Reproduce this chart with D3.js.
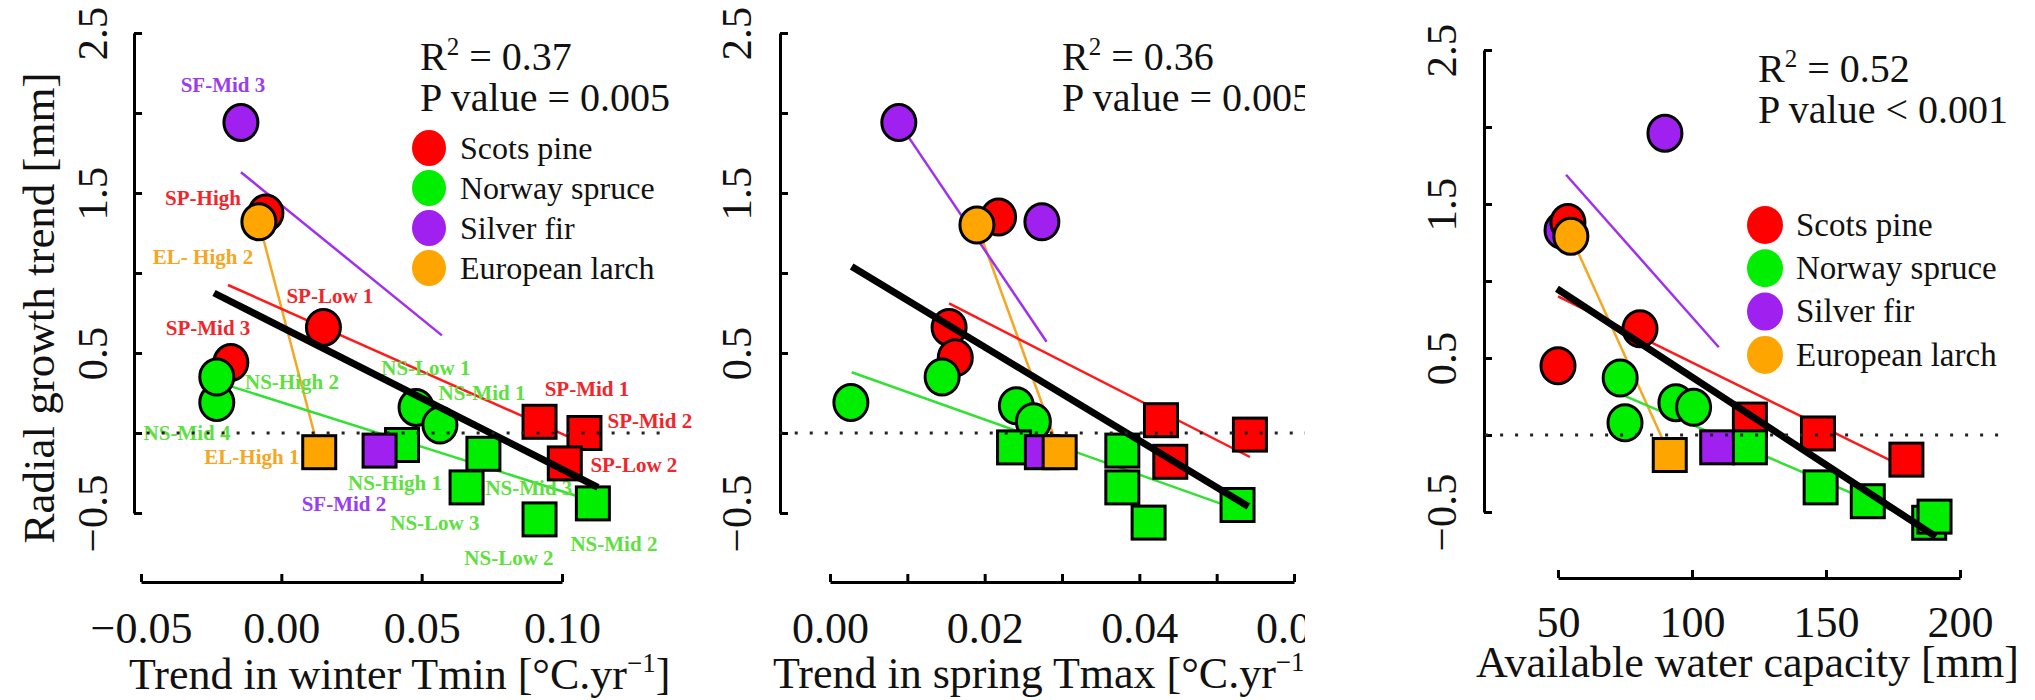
<!DOCTYPE html>
<html>
<head>
<meta charset="utf-8">
<script src="https://cdn.jsdelivr.net/npm/d3@7"></script>
<style>
body { margin: 0; background: #fff; }
svg text { font-family: "Liberation Serif", "Times New Roman", serif; }
</style>
</head>
<body>
<svg id="chart" width="2035" height="700"></svg>
<script>
// species and legend
const speciesCodes = ["SP", "NS", "SF", "EL"];
const speciesNames = ["Scots pine", "Norway spruce", "Silver fir", "European larch"];

// panel 1: trend in winter Tmin  [species, shape, x, y]
const winterPoints = [
  ["SP", "c", -0.018, 0.44],
  ["NS", "c", -0.023, 0.19],
  ["NS", "c", -0.023, 0.35],
  ["SF", "c", -0.0144, 1.94],
  ["SP", "c", -0.0055, 1.375],
  ["EL", "c", -0.008, 1.32],
  ["SP", "c", 0.015, 0.66],
  ["NS", "c", 0.048, 0.16],
  ["NS", "c", 0.0565, 0.05],
  ["NS", "s", 0.043, -0.075],
  ["SF", "s", 0.035, -0.11],
  ["EL", "s", 0.0135, -0.12],
  ["NS", "s", 0.072, -0.13],
  ["NS", "s", 0.066, -0.34],
  ["NS", "s", 0.092, -0.54],
  ["NS", "s", 0.111, -0.44],
  ["SP", "s", 0.092, 0.07],
  ["SP", "s", 0.108, 0.0],
  ["SP", "s", 0.101, -0.19]
];
// site labels of panel 1 [text, species, x, y]
const winterLabels = [
  ["SF-Mid 3", "SF", -0.0208, 2.175],
  ["SP-High", "SP", -0.0279, 1.47],
  ["EL- High 2", "EL", -0.0279, 1.10],
  ["SP-Low 1", "SP", 0.0173, 0.86],
  ["SP-Mid 3", "SP", -0.0261, 0.656],
  ["NS-Low 1", "NS", 0.0515, 0.41],
  ["NS-High 2", "NS", 0.0038, 0.32],
  ["NS-Mid 1", "NS", 0.0715, 0.25],
  ["SP-Mid 1", "SP", 0.1089, 0.28],
  ["SP-Mid 2", "SP", 0.1313, 0.08],
  ["NS-Mid 4", "NS", -0.0336, 0.0],
  ["EL-High 1", "EL", -0.0105, -0.15],
  ["SP-Low 2", "SP", 0.1256, -0.2],
  ["NS-High 1", "NS", 0.0405, -0.31],
  ["NS-Mid 3", "NS", 0.0882, -0.34],
  ["SF-Mid 2", "SF", 0.0223, -0.44],
  ["NS-Low 3", "NS", 0.0547, -0.56],
  ["NS-Mid 2", "NS", 0.1185, -0.69],
  ["NS-Low 2", "NS", 0.0811, -0.78]
];
// fitted lines [species or "all", x1, y1, x2, y2]
const winterFits = [
  ["EL", -0.008, 1.32, 0.0135, -0.12],
  ["SF", -0.0144, 1.63, 0.0572, 0.61],
  ["SP", -0.019, 0.925, 0.105, -0.044],
  ["NS", -0.0176, 0.29, 0.1064, -0.40],
  ["all", -0.024, 0.875, 0.1128, -0.34]
];

// panel 2: trend in spring Tmax
const springPoints = [
  ["SF", "c", 0.0089, 1.94],
  ["SP", "c", 0.0218, 1.35],
  ["EL", "c", 0.0190, 1.30],
  ["SF", "c", 0.0274, 1.32],
  ["SP", "c", 0.0154, 0.66],
  ["SP", "c", 0.0162, 0.47],
  ["NS", "c", 0.0145, 0.35],
  ["NS", "c", 0.0027, 0.19],
  ["NS", "c", 0.0241, 0.17],
  ["NS", "c", 0.0263, 0.07],
  ["NS", "s", 0.0238, -0.09],
  ["SF", "s", 0.0274, -0.12],
  ["EL", "s", 0.0297, -0.12],
  ["NS", "s", 0.0378, -0.11],
  ["NS", "s", 0.0378, -0.34],
  ["NS", "s", 0.0412, -0.56],
  ["SP", "s", 0.0428, 0.08],
  ["SP", "s", 0.0440, -0.18],
  ["SP", "s", 0.0543, -0.01],
  ["NS", "s", 0.0527, -0.45]
];
const springFits = [
  ["EL", 0.0190, 1.30, 0.0297, -0.12],
  ["SF", 0.0089, 1.94, 0.028, 0.57],
  ["SP", 0.0154, 0.81, 0.0543, -0.15],
  ["NS", 0.0028, 0.38, 0.0516, -0.46],
  ["all", 0.0028, 1.04, 0.0541, -0.46]
];

// panel 3: available water capacity
const awcPoints = [
  ["SF", "c", 89.9, 1.96],
  ["SF", "c", 51.5, 1.33],
  ["SP", "c", 53.7, 1.38],
  ["EL", "c", 54.8, 1.29],
  ["SP", "c", 80.6, 0.69],
  ["SP", "c", 50, 0.45],
  ["NS", "c", 73.2, 0.37],
  ["NS", "c", 75, 0.08],
  ["NS", "c", 94, 0.21],
  ["NS", "c", 100.6, 0.18],
  ["EL", "s", 91.7, -0.13],
  ["SF", "s", 109.4, -0.08],
  ["SP", "s", 121.6, 0.10],
  ["NS", "s", 121.6, -0.08],
  ["SP", "s", 147, 0.01],
  ["SP", "s", 180, -0.16],
  ["NS", "s", 148, -0.34],
  ["NS", "s", 165.6, -0.43],
  ["NS", "s", 188.5, -0.57],
  ["NS", "s", 190.5, -0.53]
];
const awcFits = [
  ["EL", 54.8, 1.29, 91.7, -0.13],
  ["SF", 53, 1.69, 110, 0.57],
  ["SP", 50, 0.90, 179.3, -0.21],
  ["NS", 74, 0.26, 189.5, -0.60],
  ["all", 49.6, 0.95, 191, -0.66]
];

const yTicks = [-0.5, 0, 0.5, 1, 1.5, 2, 2.5];
const yTickLabels = [-0.5, 0.5, 1.5, 2.5];
const stats = [["0.37", "= 0.005"], ["0.36", "= 0.005"], ["0.52", "< 0.001"]];

const fillColor = {SP: "#ff0000", NS: "#00ee00", SF: "#a020f0", EL: "#ffa500"};
const lineColor = {SP: "#ff1a1a", NS: "#33e033", SF: "#a030f0", EL: "#f5a623", all: "#000"};
const labelColor = {SP: "#f0262a", NS: "#5ee040", SF: "#9a3cf0", EL: "#f5a623"};

const svg = d3.select("#chart");

const panels = [
  {points: winterPoints, fits: winterFits, labels: winterLabels,
   xDomain: [-0.05, 0.10], xRange: [141, 562], xTicks: [-0.05, 0, 0.05, 0.10], xFmt: d3.format(".2f"),
   yRange: [513, 33], yAxisX: 134, yLabelX: 92, xAxisY: 582, xLabelY: 643,
   ref: [-0.048, 0.1385], title: ["Trend in winter Tmin [°C.yr", "−1", "]"], titleX: 129, titleY: 689,
   statX: 420, statY: 70, legend: {x: 429, y: 148, step: 40, r: 17, size: 32}, stat: 0},
  {points: springPoints, fits: springFits, labels: [],
   xDomain: [0, 0.06], xRange: [830, 1294], xTicks: [0, 0.01, 0.02, 0.03, 0.04, 0.05, 0.06],
   xFmt: d => (Math.round(d * 100) % 2 === 0 ? d3.format(".2f")(d) : ""),
   yRange: [513, 33], yAxisX: 780, yLabelX: 736, xAxisY: 582, xLabelY: 643,
   ref: [-0.0065, 0.065], title: ["Trend in spring Tmax [°C.yr", "−1", "]"], titleX: 773, titleY: 688,
   statX: 1062, statY: 70, clip: [700, 1305], stat: 1},
  {points: awcPoints, fits: awcFits, labels: [],
   xDomain: [50, 200], xRange: [1558, 1960], xTicks: [50, 100, 150, 200], xFmt: d3.format("d"),
   yRange: [512, 50], yAxisX: 1484, yLabelX: 1441, xAxisY: 578, xLabelY: 637,
   ref: [22.8, 215], title: ["Available water capacity [mm]"], titleX: 1476, titleY: 677,
   statX: 1758, statY: 82, legend: {x: 1765, y: 225, step: 43.3, r: 18, size: 33}, stat: 2}
];

panels.forEach(function (p, i) {
  let g = svg.append("g");
  if (p.clip) {
    svg.append("clipPath").attr("id", "clip" + i)
      .append("rect").attr("x", p.clip[0]).attr("y", 0)
      .attr("width", p.clip[1] - p.clip[0]).attr("height", 700);
    g.attr("clip-path", `url(#clip${i})`);
  }
  let x = d3.scaleLinear().domain(p.xDomain).range(p.xRange);
  let y = d3.scaleLinear().domain([-0.5, 2.5]).range(p.yRange);

  // y axis, R style with rotated labels
  let gy = g.append("g")
    .attr("transform", `translate(${p.yAxisX},0)`)
    .call(d3.axisLeft(y).tickValues(yTicks).tickSizeInner(-8).tickSizeOuter(0)
      .tickFormat(d => yTickLabels.includes(d) ? d3.format(".1f")(d) : ""));
  gy.selectAll("path, line").attr("stroke", "#000").attr("stroke-width", 3);
  gy.selectAll("text").filter(function () { return this.textContent === ""; }).remove();
  gy.selectAll("text")
    .attr("x", null).attr("dy", "0.35em")
    .attr("transform", `translate(${p.yLabelX - p.yAxisX},0) rotate(-90)`)
    .attr("text-anchor", "middle")
    .attr("font-family", "Liberation Serif").attr("font-size", 43).attr("fill", "#111");

  // x axis
  let gx = g.append("g")
    .attr("transform", `translate(0,${p.xAxisY})`)
    .call(d3.axisBottom(x).tickValues(p.xTicks).tickSizeInner(-8).tickSizeOuter(0).tickFormat(p.xFmt));
  gx.selectAll("path, line").attr("stroke", "#000").attr("stroke-width", 3);
  gx.selectAll("text").filter(function () { return this.textContent === ""; }).remove();
  gx.selectAll("text")
    .attr("y", p.xLabelY - p.xAxisY).attr("dy", null)
    .attr("font-family", "Liberation Serif").attr("font-size", 44).attr("fill", "#111");

  // species fits sit under the points
  g.selectAll(".fit").data(p.fits.filter(d => d[0] !== "all")).enter().append("line")
    .attr("class", "fit")
    .attr("x1", d => x(d[1])).attr("y1", d => y(d[2]))
    .attr("x2", d => x(d[3])).attr("y2", d => y(d[4]))
    .attr("stroke", d => lineColor[d[0]])
    .attr("stroke-width", 2.5);

  // site labels
  g.selectAll(".lab").data(p.labels).enter().append("text")
    .attr("x", d => x(d[2])).attr("y", d => y(d[3]))
    .attr("dy", "0.35em").attr("text-anchor", "middle")
    .attr("font-size", 21).attr("font-weight", "bold")
    .attr("fill", d => labelColor[d[1]])
    .text(d => d[0]);

  // points
  let size = 33;
  g.selectAll(".pt").data(p.points).enter()
    .append(d => document.createElementNS("http://www.w3.org/2000/svg", d[1] === "c" ? "ellipse" : "rect"))
    .attr("class", "pt")
    .each(function (d) {
      let el = d3.select(this);
      if (d[1] === "c") {
        el.attr("cx", x(d[2])).attr("cy", y(d[3])).attr("rx", 17).attr("ry", 18);
      } else {
        el.attr("x", x(d[2]) - size / 2).attr("y", y(d[3]) - size / 2)
          .attr("width", size).attr("height", size);
      }
    })
    .attr("fill", d => fillColor[d[0]])
    .attr("stroke", "#000").attr("stroke-width", 3);

  // overall fit on top
  g.selectAll(".fitall").data(p.fits.filter(d => d[0] === "all")).enter().append("line")
    .attr("class", "fitall")
    .attr("x1", d => x(d[1])).attr("y1", d => y(d[2]))
    .attr("x2", d => x(d[3])).attr("y2", d => y(d[4]))
    .attr("stroke", "#000").attr("stroke-width", 7);

  // dotted zero line
  g.append("line")
    .attr("x1", x(p.ref[0])).attr("x2", x(p.ref[1]))
    .attr("y1", y(0)).attr("y2", y(0))
    .attr("stroke", "#222").attr("stroke-width", 3).attr("stroke-dasharray", "3,12");

  // statistics
  let st = g.append("text").attr("x", p.statX).attr("y", p.statY)
    .attr("font-size", 40).attr("fill", "#111");
  st.append("tspan").text("R");
  st.append("tspan").attr("dy", -15).attr("font-size", 25).text("2");
  st.append("tspan").attr("dy", 15).text(" = " + stats[p.stat][0]);
  g.append("text").attr("x", p.statX).attr("y", p.statY + 41)
    .attr("font-size", 40).attr("fill", "#111")
    .text("P value " + stats[p.stat][1]);

  // x title
  let t = g.append("text").attr("x", p.titleX).attr("y", p.titleY)
    .attr("font-size", 44).attr("fill", "#111");
  t.append("tspan").text(p.title[0]);
  if (p.title.length > 1) {
    t.append("tspan").attr("dy", -17).attr("font-size", 27).text(p.title[1]);
    t.append("tspan").attr("dy", 17).text(p.title[2]);
  }

  // legend
  if (p.legend) {
    let lg = g.append("g");
    speciesCodes.forEach(function (s, k) {
      lg.append("ellipse").attr("cx", p.legend.x).attr("cy", p.legend.y + k * p.legend.step)
        .attr("rx", p.legend.r).attr("ry", p.legend.r + 1).attr("fill", fillColor[s]);
      lg.append("text").attr("x", p.legend.x + 31).attr("y", p.legend.y + k * p.legend.step)
        .attr("dy", "0.33em").attr("font-size", p.legend.size).attr("fill", "#111")
        .text(speciesNames[k]);
    });
  }
});

// y axis title (first panel only)
svg.append("text")
  .attr("transform", "translate(38,308) rotate(-90)")
  .attr("dy", "0.35em").attr("text-anchor", "middle")
  .attr("font-size", 45).attr("fill", "#111")
  .text("Radial growth trend [mm]");
</script>
</body>
</html>
